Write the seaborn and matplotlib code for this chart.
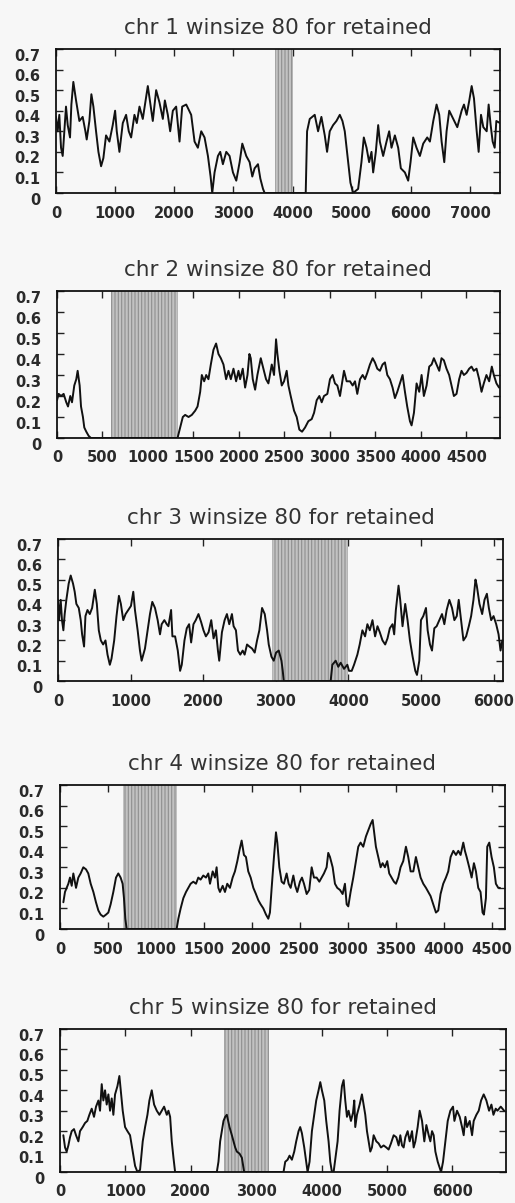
import matplotlib
matplotlib.use("Agg")
import matplotlib.pyplot as plt
import matplotlib.transforms as mtransforms
from matplotlib.ticker import FuncFormatter, MultipleLocator
import seaborn as sns

# ---------------- data ----------------
chr1_pos = [0, 28, 56, 85, 113, 169, 198, 237, 260, 293, 339, 395, 451, 497, 519, 564, 598, 632, 677, 717,
            762, 801, 846, 903, 959, 999, 1027, 1072, 1129, 1185, 1230, 1270, 1326, 1366, 1411, 1467, 1552,
            1591, 1636, 1693, 1749, 1806, 1840, 1890, 1930, 1975, 2031, 2088, 2133, 2201, 2285, 2342, 2398,
            2455, 2511, 2568, 2613, 2641, 2680, 2737, 2776, 2821, 2878, 2934, 2991, 3047, 3104, 3149, 3216,
            3273, 3318, 3357, 3414, 3454, 3499, 3527, 4221, 4244, 4289, 4373, 4430, 4486, 4543, 4582, 4627,
            4684, 4740, 4797, 4842, 4881, 4938, 4977, 5022, 5107, 5163, 5203, 5249, 5293, 5333, 5361, 5406,
            5446, 5474, 5530, 5587, 5632, 5671, 5728, 5784, 5829, 5897, 5953, 5993, 6038, 6094, 6151, 6207,
            6275, 6320, 6377, 6433, 6478, 6518, 6563, 6602, 6647, 6715, 6783, 6856, 6896, 6941, 6986, 7026,
            7065, 7111, 7144, 7184, 7223, 7280, 7313, 7347, 7381, 7415, 7443, 7505]
chr1_val = [0.37, 0.30, 0.38, 0.22, 0.18, 0.42, 0.33, 0.27, 0.43, 0.54, 0.45, 0.35, 0.37, 0.30, 0.26, 0.35,
            0.48, 0.42, 0.30, 0.20, 0.13, 0.17, 0.28, 0.25, 0.33, 0.40, 0.30, 0.20, 0.34, 0.38, 0.30, 0.27,
            0.38, 0.34, 0.42, 0.36, 0.52, 0.44, 0.35, 0.50, 0.44, 0.36, 0.45, 0.38, 0.30, 0.40, 0.42, 0.25,
            0.42, 0.43, 0.38, 0.25, 0.22, 0.30, 0.27, 0.18, 0.08, 0.00, 0.10, 0.18, 0.20, 0.14, 0.20, 0.18,
            0.10, 0.06, 0.15, 0.24, 0.18, 0.15, 0.08, 0.12, 0.14, 0.07, 0.02, 0.00, 0.00, 0.30, 0.36, 0.38,
            0.30, 0.37, 0.28, 0.20, 0.30, 0.33, 0.35, 0.38, 0.35, 0.30, 0.15, 0.05, 0.00, 0.02, 0.15, 0.27,
            0.22, 0.15, 0.20, 0.10, 0.20, 0.33, 0.25, 0.18, 0.25, 0.30, 0.22, 0.28, 0.22, 0.12, 0.10, 0.06,
            0.15, 0.27, 0.22, 0.18, 0.24, 0.27, 0.25, 0.35, 0.43, 0.38, 0.25, 0.15, 0.30, 0.40, 0.36, 0.32,
            0.40, 0.43, 0.38, 0.45, 0.52, 0.46, 0.30, 0.20, 0.38, 0.32, 0.30, 0.43, 0.33, 0.25, 0.22, 0.35,
            0.34]

chr2_pos = [0, 18, 44, 73, 102, 121, 146, 165, 190, 212, 227, 249, 264, 285, 300, 322, 348, 373, 1325, 1354,
            1383, 1409, 1446, 1482, 1519, 1545, 1574, 1592, 1618, 1640, 1665, 1691, 1720, 1749, 1775, 1801,
            1830, 1859, 1885, 1911, 1940, 1969, 1995, 2013, 2042, 2068, 2094, 2115, 2130, 2152, 2178, 2203,
            2240, 2269, 2298, 2324, 2361, 2386, 2408, 2423, 2445, 2471, 2496, 2525, 2544, 2569, 2606, 2635,
            2664, 2694, 2727, 2763, 2800, 2826, 2855, 2884, 2910, 2935, 2972, 3001, 3030, 3056, 3082, 3111,
            3129, 3155, 3184, 3221, 3250, 3276, 3301, 3331, 3360, 3386, 3411, 3440, 3470, 3495, 3521, 3550,
            3579, 3605, 3631, 3660, 3689, 3715, 3741, 3770, 3799, 3825, 3850, 3880, 3898, 3924, 3953, 3982,
            4008, 4033, 4063, 4092, 4118, 4143, 4172, 4202, 4227, 4253, 4282, 4311, 4337, 4363, 4392, 4421,
            4447, 4473, 4502, 4531, 4557, 4582, 4612, 4641, 4667, 4692, 4721, 4751, 4780, 4802, 4831, 4860]
chr2_val = [0.18, 0.21, 0.20, 0.21, 0.17, 0.15, 0.20, 0.17, 0.25, 0.28, 0.32, 0.25, 0.15, 0.10, 0.05, 0.03,
            0.01, 0.00, 0.00, 0.05, 0.10, 0.11, 0.10, 0.11, 0.13, 0.15, 0.22, 0.30, 0.27, 0.30, 0.28, 0.35,
            0.42, 0.45, 0.40, 0.38, 0.35, 0.28, 0.32, 0.28, 0.33, 0.27, 0.32, 0.28, 0.33, 0.24, 0.30, 0.40,
            0.38, 0.28, 0.23, 0.30, 0.38, 0.33, 0.28, 0.26, 0.35, 0.30, 0.47, 0.40, 0.32, 0.25, 0.27, 0.32,
            0.25, 0.20, 0.13, 0.10, 0.04, 0.03, 0.05, 0.08, 0.09, 0.12, 0.18, 0.20, 0.17, 0.20, 0.21, 0.28,
            0.30, 0.26, 0.25, 0.20, 0.25, 0.32, 0.27, 0.27, 0.25, 0.27, 0.21, 0.28, 0.30, 0.28, 0.31, 0.35,
            0.38, 0.36, 0.33, 0.32, 0.35, 0.36, 0.30, 0.28, 0.24, 0.19, 0.22, 0.26, 0.30, 0.22, 0.15, 0.08,
            0.06, 0.12, 0.26, 0.22, 0.30, 0.20, 0.25, 0.34, 0.35, 0.38, 0.35, 0.32, 0.38, 0.37, 0.33, 0.30,
            0.25, 0.20, 0.21, 0.28, 0.32, 0.30, 0.31, 0.33, 0.34, 0.32, 0.33, 0.28, 0.22, 0.26, 0.30, 0.27,
            0.34, 0.30, 0.26, 0.24]

chr3_pos = [0, 14, 37, 55, 74, 92, 115, 147, 175, 207, 230, 253, 286, 313, 332, 359, 378, 406, 438, 470,
            507, 535, 562, 590, 622, 654, 682, 714, 737, 774, 806, 839, 866, 899, 931, 968, 1005, 1037, 1060,
            1097, 1129, 1152, 1198, 1235, 1267, 1299, 1336, 1373, 1405, 1428, 1465, 1498, 1521, 1558, 1576,
            1613, 1650, 1682, 1705, 1742, 1774, 1806, 1834, 1866, 1898, 1935, 1972, 2004, 2037, 2074, 2111,
            2143, 2175, 2203, 2221, 2258, 2295, 2327, 2359, 2396, 2419, 2451, 2479, 2511, 2544, 2571, 2604,
            2636, 2673, 2710, 2742, 2774, 2811, 2848, 2880, 2903, 2940, 2972, 3004, 3041, 3078, 3096, 3110,
            3756, 3779, 3825, 3861, 3894, 3940, 3986, 4009, 4046, 4078, 4124, 4156, 4193, 4230, 4262, 4295,
            4332, 4368, 4401, 4433, 4470, 4507, 4539, 4571, 4608, 4631, 4654, 4691, 4714, 4746, 4783, 4815,
            4848, 4885, 4922, 4945, 4977, 5000, 5032, 5069, 5092, 5124, 5152, 5184, 5216, 5253, 5290, 5322,
            5354, 5391, 5428, 5460, 5493, 5520, 5553, 5585, 5622, 5659, 5691, 5723, 5751, 5769, 5806, 5843,
            5875, 5908, 5935, 5967, 6000, 6036, 6069, 6096, 6120]
chr3_val = [0.40, 0.30, 0.40, 0.30, 0.25, 0.33, 0.40, 0.48, 0.52, 0.48, 0.44, 0.38, 0.36, 0.30, 0.23, 0.17,
            0.32, 0.35, 0.33, 0.36, 0.45, 0.38, 0.25, 0.20, 0.18, 0.20, 0.13, 0.08, 0.11, 0.20, 0.32, 0.42,
            0.38, 0.30, 0.33, 0.35, 0.37, 0.44, 0.35, 0.25, 0.15, 0.10, 0.16, 0.25, 0.33, 0.39, 0.36, 0.30,
            0.23, 0.28, 0.30, 0.28, 0.27, 0.35, 0.22, 0.22, 0.15, 0.05, 0.08, 0.20, 0.26, 0.28, 0.19, 0.28,
            0.30, 0.33, 0.29, 0.25, 0.22, 0.24, 0.30, 0.21, 0.25, 0.15, 0.10, 0.24, 0.30, 0.33, 0.28, 0.33,
            0.27, 0.25, 0.15, 0.13, 0.15, 0.13, 0.18, 0.17, 0.16, 0.14, 0.20, 0.25, 0.36, 0.33, 0.25, 0.18,
            0.12, 0.10, 0.14, 0.15, 0.10, 0.05, 0.00, 0.00, 0.08, 0.10, 0.07, 0.09, 0.06, 0.08, 0.05, 0.05,
            0.08, 0.13, 0.18, 0.25, 0.22, 0.28, 0.25, 0.30, 0.22, 0.27, 0.24, 0.20, 0.18, 0.21, 0.26, 0.28,
            0.23, 0.35, 0.47, 0.40, 0.27, 0.38, 0.30, 0.20, 0.12, 0.05, 0.03, 0.10, 0.30, 0.32, 0.36, 0.25,
            0.18, 0.15, 0.26, 0.27, 0.30, 0.33, 0.28, 0.35, 0.40, 0.36, 0.30, 0.32, 0.40, 0.30, 0.20, 0.22,
            0.27, 0.32, 0.40, 0.50, 0.47, 0.38, 0.33, 0.40, 0.43, 0.36, 0.30, 0.32, 0.28, 0.23, 0.15, 0.20]

chr4_pos = [35, 52, 70, 87, 104, 122, 139, 167, 191, 215, 243, 271, 295, 320, 348, 375, 400, 424, 452, 480,
            504, 528, 556, 584, 608, 632, 653, 667, 681, 695, 1216, 1234, 1258, 1286, 1314, 1338, 1362, 1390,
            1418, 1442, 1466, 1494, 1522, 1546, 1564, 1592, 1616, 1633, 1651, 1668, 1696, 1720, 1744, 1772,
            1800, 1824, 1849, 1870, 1894, 1918, 1939, 1963, 1988, 2016, 2043, 2068, 2092, 2120, 2148, 2172,
            2189, 2207, 2231, 2252, 2266, 2287, 2311, 2335, 2363, 2384, 2405, 2433, 2453, 2474, 2502, 2523,
            2544, 2572, 2599, 2624, 2648, 2676, 2704, 2728, 2752, 2780, 2797, 2815, 2843, 2867, 2891, 2919,
            2947, 2971, 2989, 3006, 3030, 3058, 3086, 3110, 3134, 3162, 3190, 3214, 3239, 3260, 3273, 3294,
            3319, 3343, 3364, 3388, 3412, 3433, 3458, 3482, 3503, 3527, 3551, 3579, 3607, 3631, 3656, 3684,
            3711, 3736, 3760, 3788, 3816, 3840, 3864, 3892, 3920, 3944, 3968, 3996, 4024, 4048, 4073, 4101,
            4129, 4153, 4177, 4205, 4222, 4240, 4267, 4292, 4316, 4337, 4361, 4385, 4406, 4420, 4441, 4455,
            4476, 4500, 4524, 4545, 4570, 4587]
chr4_val = [0.13, 0.18, 0.20, 0.22, 0.25, 0.21, 0.27, 0.20, 0.25, 0.27, 0.30, 0.29, 0.27, 0.22, 0.18, 0.13,
            0.09, 0.07, 0.06, 0.07, 0.08, 0.12, 0.18, 0.25, 0.27, 0.25, 0.22, 0.15, 0.05, 0.00, 0.00, 0.05,
            0.10, 0.15, 0.18, 0.20, 0.22, 0.23, 0.22, 0.25, 0.24, 0.26, 0.25, 0.27, 0.22, 0.28, 0.25, 0.30,
            0.20, 0.18, 0.21, 0.18, 0.22, 0.20, 0.25, 0.28, 0.33, 0.38, 0.43, 0.36, 0.35, 0.28, 0.25, 0.20,
            0.17, 0.14, 0.12, 0.10, 0.07, 0.05, 0.08, 0.20, 0.35, 0.47, 0.42, 0.30, 0.23, 0.22, 0.27, 0.22,
            0.20, 0.26, 0.21, 0.18, 0.23, 0.25, 0.22, 0.17, 0.19, 0.30, 0.25, 0.25, 0.23, 0.25, 0.27, 0.30,
            0.37, 0.35, 0.30, 0.22, 0.20, 0.19, 0.17, 0.22, 0.12, 0.11, 0.18, 0.25, 0.33, 0.40, 0.42, 0.40,
            0.45, 0.48, 0.51, 0.53, 0.48, 0.40, 0.35, 0.30, 0.32, 0.30, 0.33, 0.27, 0.25, 0.23, 0.22, 0.25,
            0.30, 0.33, 0.40, 0.35, 0.28, 0.28, 0.35, 0.30, 0.25, 0.22, 0.20, 0.18, 0.16, 0.12, 0.08, 0.09,
            0.17, 0.22, 0.25, 0.28, 0.35, 0.38, 0.36, 0.38, 0.36, 0.42, 0.38, 0.35, 0.30, 0.25, 0.32, 0.28,
            0.20, 0.18, 0.08, 0.07, 0.15, 0.40, 0.42, 0.35, 0.30, 0.22, 0.20, 0.20]

chr5_pos = [51, 77, 102, 128, 153, 179, 214, 245, 281, 306, 347, 383, 418, 449, 485, 520, 551, 587, 612, 638,
            663, 689, 714, 740, 765, 791, 816, 842, 878, 908, 929, 959, 995, 1031, 1071, 1112, 1148, 1184,
            1224, 1265, 1301, 1337, 1367, 1403, 1439, 1480, 1520, 1556, 1592, 1633, 1658, 1684, 1709, 1735,
            1760, 2398, 2423, 2449, 2474, 2500, 2526, 2551, 2592, 2628, 2653, 2679, 2704, 2745, 2781, 2816,
            3418, 3444, 3480, 3510, 3546, 3582, 3612, 3648, 3673, 3699, 3735, 3765, 3786, 3816, 3852, 3888,
            3918, 3954, 3980, 4005, 4041, 4071, 4107, 4133, 4158, 4184, 4209, 4245, 4275, 4311, 4337, 4362,
            4388, 4413, 4449, 4480, 4500, 4515, 4541, 4582, 4617, 4643, 4668, 4694, 4719, 4745, 4770, 4796,
            4837, 4872, 4908, 4949, 4990, 5025, 5061, 5102, 5143, 5178, 5204, 5230, 5255, 5281, 5316, 5347,
            5383, 5408, 5434, 5469, 5500, 5536, 5571, 5602, 5638, 5663, 5689, 5714, 5740, 5776, 5806, 5827,
            5857, 5893, 5929, 5969, 6010, 6031, 6071, 6112, 6148, 6173, 6199, 6224, 6265, 6301, 6326, 6367,
            6403, 6439, 6479, 6520, 6561, 6597, 6628, 6663, 6689, 6740, 6791]
chr5_val = [0.18, 0.12, 0.10, 0.13, 0.17, 0.20, 0.21, 0.18, 0.15, 0.20, 0.22, 0.24, 0.25, 0.28, 0.31, 0.27,
            0.32, 0.35, 0.30, 0.43, 0.35, 0.40, 0.33, 0.38, 0.30, 0.36, 0.28, 0.38, 0.42, 0.47, 0.40, 0.30,
            0.22, 0.20, 0.18, 0.10, 0.03, 0.00, 0.01, 0.15, 0.22, 0.28, 0.35, 0.40, 0.33, 0.30, 0.28, 0.30,
            0.32, 0.28, 0.30, 0.27, 0.15, 0.07, 0.00, 0.00, 0.05, 0.15, 0.20, 0.25, 0.27, 0.28, 0.22, 0.18,
            0.15, 0.12, 0.10, 0.09, 0.07, 0.00, 0.00, 0.05, 0.06, 0.08, 0.06, 0.10, 0.15, 0.20, 0.22, 0.19,
            0.12, 0.05, 0.00, 0.05, 0.20, 0.28, 0.35, 0.40, 0.44, 0.40, 0.35, 0.25, 0.15, 0.05, 0.00, 0.00,
            0.06, 0.15, 0.30, 0.42, 0.45, 0.35, 0.27, 0.30, 0.25, 0.29, 0.35, 0.22, 0.28, 0.33, 0.38, 0.33,
            0.28, 0.20, 0.15, 0.10, 0.12, 0.18, 0.15, 0.14, 0.12, 0.13, 0.12, 0.11, 0.14, 0.18, 0.17, 0.13,
            0.18, 0.13, 0.12, 0.17, 0.20, 0.15, 0.20, 0.12, 0.15, 0.22, 0.30, 0.25, 0.15, 0.23, 0.18, 0.15,
            0.20, 0.18, 0.10, 0.05, 0.02, 0.00, 0.05, 0.15, 0.25, 0.30, 0.32, 0.25, 0.30, 0.27, 0.22, 0.18,
            0.27, 0.22, 0.25, 0.18, 0.25, 0.28, 0.30, 0.35, 0.38, 0.35, 0.30, 0.33, 0.28, 0.31, 0.30, 0.32,
            0.30]

titles = ["chr 1 winsize 80 for retained", "chr 2 winsize 80 for retained",
          "chr 3 winsize 80 for retained", "chr 4 winsize 80 for retained",
          "chr 5 winsize 80 for retained"]
chr_lengths = [7505, 4870, 6130, 4640, 6820]
centromere_start = [3700, 590, 2950, 655, 2510]
centromere_end = [4000, 1325, 3990, 1215, 3195]
xtick_step = [1000, 500, 1000, 500, 1000]
yticks = [0, 0.1, 0.2, 0.3, 0.4, 0.5, 0.6, 0.7]

positions = [chr1_pos, chr2_pos, chr3_pos, chr4_pos, chr5_pos]
values = [chr1_val, chr2_val, chr3_val, chr4_val, chr5_val]

# ---------------- style ----------------
sns.set_style("ticks")
plt.rcParams["font.family"] = ["DejaVu Sans"]
plt.rcParams["hatch.linewidth"] = 0.8
plt.rcParams["hatch.color"] = "#8f8f8f"

BG = "#f7f7f7"
fig = plt.figure(figsize=(5.15, 12.03), dpi=100, facecolor=BG)

# axes boxes in pixels (left, top, right, bottom)
boxes = [(56, 49, 500, 193), (57, 291, 500, 438), (58, 539, 503, 681),
         (60, 785, 505, 929), (60, 1029, 506, 1172)]
W, H = 515, 1203

for i in range(5):
    l, t, r, b = boxes[i]
    ax = fig.add_axes([l / W, 1 - b / H, (r - l) / W, (b - t) / H])
    ax.set_facecolor(BG)
    ax.axvspan(centromere_start[i], centromere_end[i], facecolor="#c2c2c2",
               edgecolor="#8f8f8f", hatch="|||||", linewidth=0, zorder=1)
    sns.lineplot(x=positions[i], y=values[i], ax=ax, color="#111111", linewidth=1.4,
                 estimator=None, sort=False, zorder=3)
    ax.set_xlim(0, chr_lengths[i])
    ax.set_ylim(0, 0.7)
    ax.set_yticks(yticks)
    ax.xaxis.set_major_locator(MultipleLocator(xtick_step[i]))
    ax.yaxis.set_major_formatter(FuncFormatter(lambda v, p: "0" if abs(v) < 1e-9 else f"{v:.1f}"))
    ax.xaxis.set_major_formatter(FuncFormatter(lambda v, p: f"{int(round(v))}"))
    ax.tick_params(direction="in", length=5, width=1, top=True, right=True,
                   colors="#222222", labelsize=10.5)
    ax.tick_params(axis="x", pad=9)
    ax.tick_params(axis="y", pad=11)
    for lab in ax.get_xticklabels() + ax.get_yticklabels():
        lab.set_fontweight("bold")
        lab.set_color("#2a2a2a")
    off = mtransforms.ScaledTranslation(0, -4 / 72, fig.dpi_scale_trans)
    for lab in ax.get_yticklabels():
        lab.set_transform(lab.get_transform() + off)
    for s in ax.spines.values():
        s.set_visible(True)
        s.set_color("#111111")
        s.set_linewidth(1.3)
    ax.set_xlabel("")
    ax.set_ylabel("")
    ax.set_title(titles[i], fontsize=15.5, color="#333333", pad=11)

fig.savefig("out.png", dpi=100, facecolor=BG)
